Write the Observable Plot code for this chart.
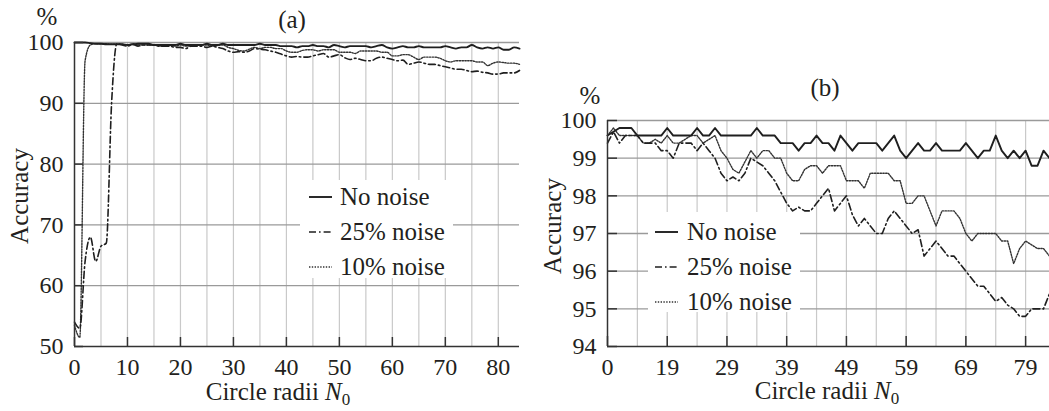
<!DOCTYPE html>
<html><head><meta charset="utf-8">
<script src="https://cdn.jsdelivr.net/npm/d3@7"></script>
<script src="https://cdn.jsdelivr.net/npm/@observablehq/plot@0.6"></script>
<style>
body{margin:0;background:#fff;}
#wrap{position:relative;width:1049px;height:411px;overflow:hidden;font-family:"Liberation Serif","Times New Roman",serif;color:#231f20;}
.abs{position:absolute;white-space:nowrap;line-height:1;font-size:25px;}
.panel{position:absolute;top:0;}
.legend{position:absolute;background:#fff;}
.row{position:absolute;height:25px;display:flex;align-items:center;font-size:25px;line-height:25px;white-space:nowrap;}
.row svg{display:block;}
</style></head><body><div id="wrap"></div>
<script>
// ---------- data ----------
const seriesNames = ["No noise", "25% noise", "10% noise"];

// panel (a): early radii 0..9 (only shown in panel a)
const radiiEarly = [0, 1, 2, 3, 4, 5, 6, 7, 8, 9];
const aNoNoise = [100, 100, 100, 99.9, 99.8, 99.8, 99.7, 99.7, 99.7, 99.7];
const a25 = [54, 53, 64, 68, 64, 66.5, 67, 90, 99.8, 99.6];
const a10 = [53.5, 51.5, 97, 99.6, 99.8, 99.8, 99.8, 99.7, 99.7, 99.7];

// panel (b) (also panel a for radii 10..84)
const bNoNoise = [99.6,99.7,99.8,99.8,99.8,99.6,99.6,99.6,99.6,99.6,
  99.8,99.6,99.6,99.6,99.6,99.8,99.6,99.6,99.8,99.6,
  99.6,99.6,99.6,99.6,99.6,99.8,99.6,99.6,99.6,99.4,
  99.4,99.4,99.2,99.4,99.4,99.6,99.4,99.4,99.2,99.6,
  99.4,99.2,99.4,99.4,99.4,99.4,99.2,99.4,99.6,99.2,
  99.0,99.2,99.4,99.2,99.2,99.4,99.2,99.2,99.2,99.2,
  99.4,99.2,99.0,99.2,99.2,99.6,99.2,99.0,99.2,99.0,
  99.2,98.8,98.8,99.2,99.0];
const b25 = [99.4,99.7,99.4,99.6,99.6,99.6,99.4,99.4,99.4,99.2,
  99.2,99.0,99.4,99.4,99.4,99.2,99.4,99.2,99.0,98.6,
  98.4,98.5,98.4,98.6,99.0,98.9,98.8,98.6,98.4,98.1,
  97.8,97.6,97.7,97.6,97.6,97.8,98.0,98.2,97.6,97.8,
  98.0,97.5,97.2,97.4,97.2,97.0,97.0,97.4,97.6,97.4,
  97.2,97.0,97.1,96.4,96.6,96.8,96.6,96.4,96.4,96.2,
  96.0,95.8,95.6,95.6,95.4,95.2,95.3,95.1,95.0,94.8,
  94.8,95.0,95.0,95.0,95.4];
const b10 = [99.6,99.8,99.6,99.6,99.6,99.6,99.4,99.4,99.5,99.4,
  99.6,99.4,99.4,99.5,99.6,99.6,99.4,99.5,99.6,99.2,
  99.0,98.7,98.6,98.9,99.2,99.0,99.2,99.2,99.0,99.0,
  98.6,98.4,98.4,98.7,98.8,98.8,98.6,98.8,98.8,98.8,
  98.4,98.4,98.4,98.2,98.6,98.6,98.6,98.6,98.4,98.4,
  97.8,97.8,98.0,98.0,97.6,97.2,97.6,97.6,97.6,97.4,
  97.0,96.8,97.0,97.0,97.0,97.0,96.8,96.8,96.2,96.6,
  96.8,96.7,96.6,96.6,96.4];
const bIndex = d3.range(bNoNoise.length);
const radiiLate = bIndex.map(i => i + 10);

// ticks
const aXTicks = [0, 10, 20, 30, 40, 50, 60, 70, 80];
const aYTicks = [50, 60, 70, 80, 90, 100];
const aVGrid = [5,10,15,20,25,30,35,40,45,50,55,60,65,70,75,80];
const aHGrid = [60, 70, 80, 90, 100];
const bXTickIdx = [0, 10, 20, 30, 40, 50, 60, 70];
const bXTickLabels = ["0", "19", "29", "39", "49", "59", "69", "79"];
const bYTicks = [94, 95, 96, 97, 98, 99, 100];
const bVGrid = [5,10,15,20,25,30,35,40,45,50,55,60,65,70];
const bHGrid = [95, 96, 97, 98, 99, 100];

// ---------- styles ----------
const INK = "#1f1f1f";
const lineStyles = {
  "No noise": {stroke: INK, strokeWidth: 1.9},
  "25% noise": {stroke: INK, strokeWidth: 1.6, strokeDasharray: "7,3,1.6,3"},
  "10% noise": {stroke: "#333", strokeWidth: 1.4, strokeDasharray: "1.4,1.4"}
};
const font = '"Liberation Serif","Times New Roman",serif';

function rows(xs, ys, name) { return xs.map((x, i) => ({x, y: ys[i], name})); }

const wrap = document.getElementById("wrap");

// ---------- panel (a) ----------
{
  const W = 524, H = 411, mL = 74, mR = 5, mT = 42, mB = 65;
  const fw = W - mL - mR, fh = H - mT - mB;
  const xs = radiiEarly.concat(radiiLate);
  const data = {
    "No noise": rows(xs, aNoNoise.concat(bNoNoise)),
    "25% noise": rows(xs, a25.concat(b25)),
    "10% noise": rows(xs, a10.concat(b10))
  };
  const chart = Plot.plot({
    width: W, height: H, marginLeft: mL, marginRight: mR, marginTop: mT, marginBottom: mB,
    x: {domain: [0, 84]},
    y: {domain: [50, 100]},
    style: {fontFamily: font, fontSize: "24px", color: "#231f20", background: "transparent", overflow: "visible"},
    marks: [
      Plot.ruleX(aVGrid, {stroke: "#c9c9c9", strokeWidth: 1.2}),
      Plot.ruleY(aHGrid, {stroke: "#9a9a9a", strokeWidth: 1.3}),
      Plot.line(data["10% noise"], {x: "x", y: "y", curve: "monotone-x", ...lineStyles["10% noise"]}),
      Plot.line(data["25% noise"], {x: "x", y: "y", curve: "monotone-x", ...lineStyles["25% noise"]}),
      Plot.line(data["No noise"], {x: "x", y: "y", curve: "monotone-x", ...lineStyles["No noise"]}),
      Plot.ruleX([0], {stroke: "#333", strokeWidth: 1.5}),
      Plot.ruleY([50], {stroke: "#333", strokeWidth: 1.5}),
      Plot.tickY(aYTicks, {y: d => d, stroke: "#333", strokeWidth: 1.5, insetRight: fw - 9}),
      Plot.tickX(aXTicks, {x: d => d, stroke: "#333", strokeWidth: 1.5, insetTop: fh - 9}),
      Plot.axisY({ticks: aYTicks, tickSize: 0, tickPadding: 11, label: null, tickFormat: d => String(d)}),
      Plot.axisX({ticks: aXTicks, tickSize: 0, tickPadding: 11, label: null, tickFormat: d => String(d)})
    ]
  });
  const holder = document.createElement("div");
  holder.className = "panel"; holder.style.left = "0px";
  holder.appendChild(chart);
  wrap.appendChild(holder);
}

// ---------- panel (b) ----------
{
  const W = 525, H = 411, mL = 83, mR = 0, mT = 120, mB = 65;
  const fw = W - mL - mR, fh = H - mT - mB;
  const data = {
    "No noise": rows(bIndex, bNoNoise),
    "25% noise": rows(bIndex, b25),
    "10% noise": rows(bIndex, b10)
  };
  const chart = Plot.plot({
    width: W, height: H, marginLeft: mL, marginRight: mR, marginTop: mT, marginBottom: mB,
    x: {domain: [0, 74]},
    y: {domain: [94, 100]},
    style: {fontFamily: font, fontSize: "24px", color: "#231f20", background: "transparent", overflow: "visible"},
    marks: [
      Plot.ruleX(bVGrid, {stroke: "#c9c9c9", strokeWidth: 1.2}),
      Plot.ruleY(bHGrid, {stroke: "#9a9a9a", strokeWidth: 1.3}),
      Plot.line(data["10% noise"], {x: "x", y: "y", ...lineStyles["10% noise"]}),
      Plot.line(data["25% noise"], {x: "x", y: "y", ...lineStyles["25% noise"]}),
      Plot.line(data["No noise"], {x: "x", y: "y", ...lineStyles["No noise"]}),
      Plot.ruleX([0], {stroke: "#333", strokeWidth: 1.5}),
      Plot.ruleY([94], {stroke: "#333", strokeWidth: 1.5}),
      Plot.tickY(bYTicks, {y: d => d, stroke: "#333", strokeWidth: 1.5, insetRight: fw - 10}),
      Plot.tickX(bXTickIdx, {x: d => d, stroke: "#333", strokeWidth: 1.5, insetTop: fh - 10}),
      Plot.axisY({ticks: bYTicks, tickSize: 0, tickPadding: 11, label: null, tickFormat: d => String(d)}),
      Plot.axisX({ticks: bXTickIdx, tickSize: 0, tickPadding: 11, label: null,
        tickFormat: d => bXTickLabels[bXTickIdx.indexOf(d)]})
    ]
  });
  const holder = document.createElement("div");
  holder.className = "panel"; holder.style.left = "524px";
  holder.appendChild(chart);
  wrap.appendChild(holder);
}

// ---------- text annotations ----------
function addText(html, left, top, extra) {
  const el = document.createElement("div");
  el.className = "abs";
  el.innerHTML = html;
  el.style.left = left + "px";
  el.style.top = top + "px";
  if (extra) Object.assign(el.style, extra);
  wrap.appendChild(el);
  return el;
}
addText("%", 47, 4, {transform: "translateX(-50%)"});
addText("(a)", 292, 7, {transform: "translateX(-50%)"});
addText("%", 590, 83, {transform: "translateX(-50%)"});
addText("(b)", 825, 75, {transform: "translateX(-50%)"});
addText("Accuracy", 19, 196, {transform: "translate(-50%,-50%) rotate(-90deg)"});
addText("Accuracy", 552, 226, {transform: "translate(-50%,-50%) rotate(-90deg)"});
addText('Circle radii <i>N</i><sub style="font-size:17px;vertical-align:-5px">0</sub>', 278, 379, {transform: "translateX(-50%)"});
addText('Circle radii <i>N</i><sub style="font-size:17px;vertical-align:-5px">0</sub>', 827, 378, {transform: "translateX(-50%)"});

// ---------- legends ----------
function addLegend(box, sampleX, textX, rowCenters) {
  const lg = document.createElement("div");
  lg.className = "legend";
  Object.assign(lg.style, {left: box[0] + "px", top: box[1] + "px", width: box[2] + "px", height: box[3] + "px"});
  wrap.appendChild(lg);
  seriesNames.forEach((name, i) => {
    const r = document.createElement("div");
    r.className = "row";
    r.style.left = (sampleX - box[0]) + "px";
    r.style.top = (rowCenters[i] - 12.5 - box[1]) + "px";
    const st = lineStyles[name];
    const sw = 23;
    r.innerHTML = `<svg width="${sw}" height="25"><line x1="0" x2="${sw}" y1="13" y2="13" stroke="${st.stroke}" stroke-width="${st.strokeWidth}" ${st.strokeDasharray ? `stroke-dasharray="${st.strokeDasharray}"` : ""}/></svg><span style="margin-left:${textX - sampleX - sw}px">${name}</span>`;
    lg.appendChild(r);
  });
}
addLegend([300, 180, 153, 98], 309, 340, [196, 231, 266]);
addLegend([648, 212, 152, 100], 655, 687, [231.5, 266.5, 301]);
</script></body></html>
